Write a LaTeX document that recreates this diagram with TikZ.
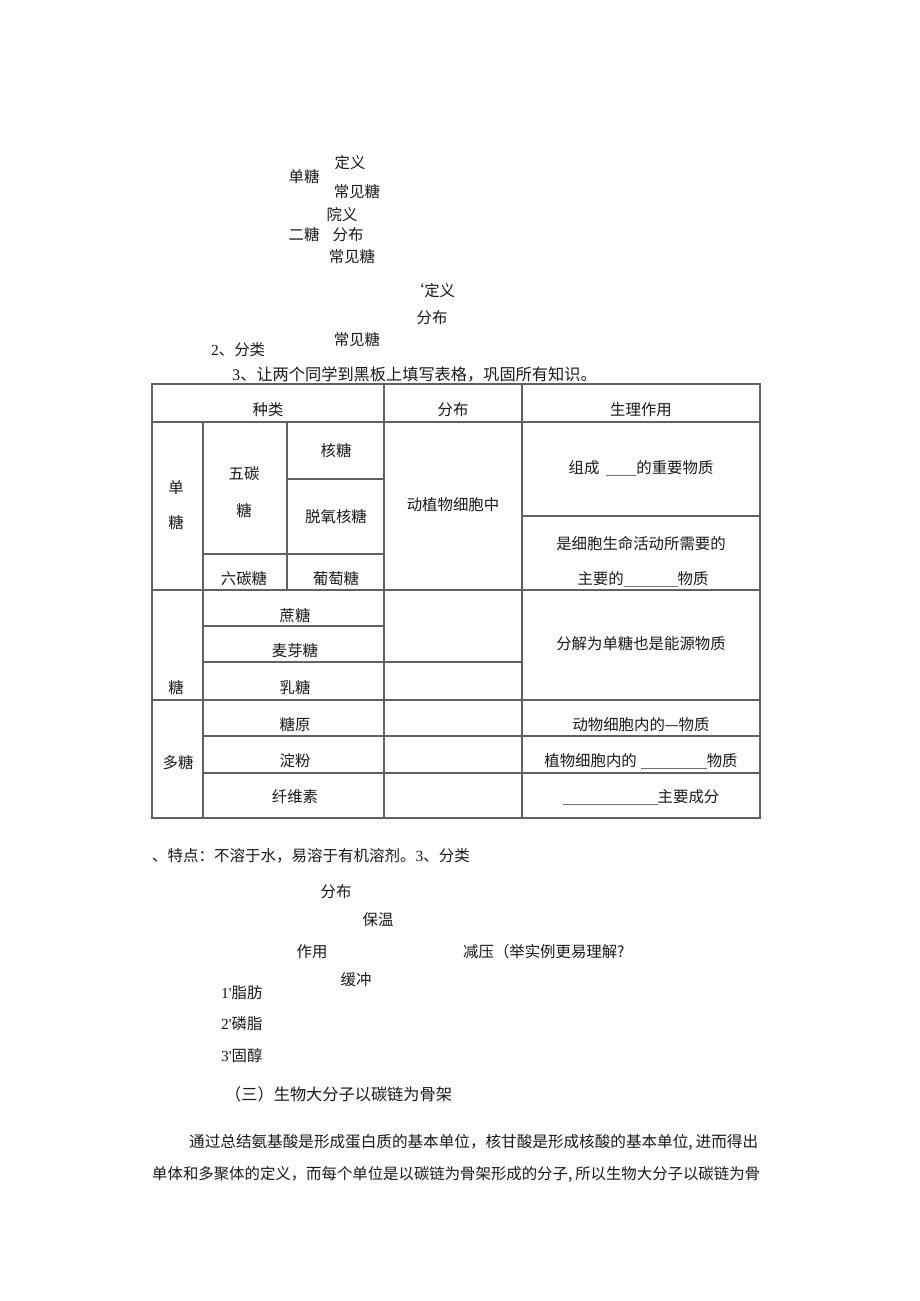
\documentclass[tikz,border=0pt]{standalone}
\usepackage{fontspec}
\setmainfont{Noto Sans CJK SC}
\newfontfamily\lat{Liberation Serif}
\newcommand\fillblank[1]{\textcolor{black!55}{\rule[-2pt]{#1}{0.7pt}}}
\begin{document}
\begin{tikzpicture}[x=1pt,y=-1pt,
  font=\fontsize{15.4}{18}\selectfont,
  txt/.style={inner sep=0pt, anchor=center, text=black!90},
  lft/.style={inner sep=0pt, anchor=west, text=black!90},
  tl/.style={draw=black!62, line width=1.1pt}]
\useasboundingbox (0,0) rectangle (920,1301);
\fill[white] (0,0) rectangle (920,1301);

% ---- top outline ----
\node[txt] (a1) at (350,163) {定义};
\node[txt] (a2) at (304,177) {单糖};
\node[txt] (a3) at (357,192) {常见糖};
\node[txt] (a4) at (342,215) {院义};
\node[txt] (a5) at (304,235) {二糖};
\node[txt] (a6) at (348,235) {分布};
\node[txt] (a7) at (352,257) {常见糖};
\node[txt] (a8) at (432,291) {‘定义};
\node[txt] (a9) at (432,318) {分布};
\node[txt] (a10) at (357,340) {常见糖};
\node[lft] (a11) at (211,350) {{\lat 2}、分类};
\node[lft, font=\fontsize{16.2}{18}\selectfont] (a12) at (232,374) {{\lat 3}、让两个同学到黑板上填写表格，巩固所有知识。};

% ---- table lines ----
\draw[tl] (152,384) rectangle (760,818);
\draw[tl] (152,422) -- (760,422);
\draw[tl] (152,590) -- (760,590);
\draw[tl] (152,700) -- (760,700);
\draw[tl] (203,422) -- (203,818);
\draw[tl] (384,384) -- (384,818);
\draw[tl] (522,384) -- (522,818);
\draw[tl] (287,422) -- (287,590);
\draw[tl] (287,479) -- (384,479);
\draw[tl] (203,554) -- (384,554);
\draw[tl] (522,516) -- (760,516);
\draw[tl] (203,626) -- (384,626);
\draw[tl] (203,662) -- (522,662);
\draw[tl] (203,736) -- (760,736);
\draw[tl] (203,773) -- (760,773);

% ---- table text ----
\node[txt] (h1) at (268,410) {种类};
\node[txt] (h2) at (453,410) {分布};
\node[txt] (h3) at (641,410) {生理作用};
\node[txt] (d1) at (176,488) {单};
\node[txt] (d2) at (176,523) {糖};
\node[txt] (w1) at (244,474) {五碳};
\node[txt] (w2) at (244,511) {糖};
\node[txt] (k1) at (336,451) {核糖};
\node[txt] (k2) at (336,517) {脱氧核糖};
\node[txt] (l1) at (244,579) {六碳糖};
\node[txt] (l2) at (336,579) {葡萄糖};
\node[txt] (f1) at (453,505) {动植物细胞中};
\node[txt] (r1) at (641,468) {组成\hspace{7pt}\fillblank{30pt}的重要物质};
\node[txt] (r2) at (641,544) {是细胞生命活动所需要的};
\node[txt] (r3) at (643,579) {主要的\fillblank{54pt}物质};
\node[txt] (e1) at (295,616) {蔗糖};
\node[txt] (e2) at (295,651) {麦芽糖};
\node[txt] (e3) at (295,688) {乳糖};
\node[txt] (e4) at (176,688) {糖};
\node[txt] (r4) at (641,644) {分解为单糖也是能源物质};
\node[txt] (p1) at (295,725) {糖原};
\node[txt] (p2) at (178,763) {多糖};
\node[txt] (p3) at (295,761) {淀粉};
\node[txt] (p4) at (295,797) {纤维素};
\node[txt] (r5) at (641,725) {动物细胞内的—物质};
\node[txt] (r6) at (641,761) {植物细胞内的\hspace{4pt}\fillblank{66pt}物质};
\node[txt] (r7) at (641,797) {\fillblank{95pt}主要成分};

% ---- lower text ----
\node[lft, font=\fontsize{15.5}{18}\selectfont] (b1) at (152,856) {、特点：不溶于水，易溶于有机溶剂。{\lat 3}、分类};
\node[txt] (b2) at (336,892) {分布};
\node[txt] (b3) at (378,920) {保温};
\node[txt] (b4) at (312,952) {作用};
\node[lft] (b5) at (463,952) {减压（举实例更易理解?};
\node[txt] (b6) at (356,980) {缓冲};
\node[lft] (b7) at (221,993) {{\lat 1'}脂肪};
\node[lft] (b8) at (221,1024) {{\lat 2'}磷脂};
\node[lft] (b9) at (221,1056) {{\lat 3'}固醇};
\node[lft, font=\fontsize{16.2}{18}\selectfont] (c1) at (225,1094) {（三）生物大分子以碳链为骨架};
\node[lft, font=\fontsize{15.6}{18}\selectfont] (c2) at (189,1142) {通过总结氨基酸是形成蛋白质的基本单位，核甘酸是形成核酸的基本单位,\hspace{3pt}进而得出};
\node[lft, font=\fontsize{15.4}{18}\selectfont] (c3) at (152,1174) {单体和多聚体的定义，而每个单位是以碳链为骨架形成的分子,\hspace{3pt}所以生物大分子以碳链为骨};
\end{tikzpicture}
\end{document}
